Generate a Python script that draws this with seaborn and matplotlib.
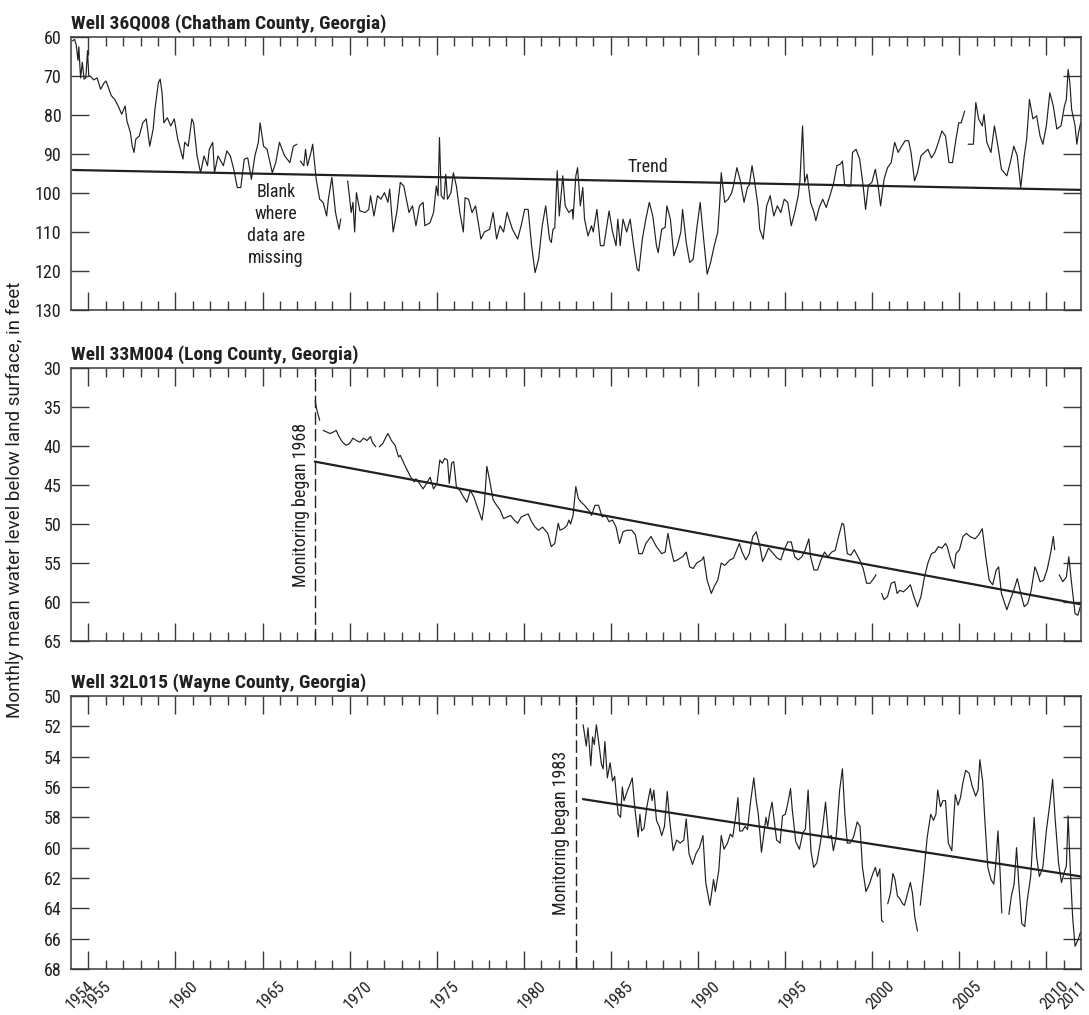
import numpy as np
import pandas as pd
import matplotlib
matplotlib.use("Agg")
import matplotlib.pyplot as plt
import seaborn as sns
from matplotlib import font_manager

nan = float("nan")

# ---------------- data ----------------
w1_year = [1954.09, 1954.20, 1954.30, 1954.40, 1954.45, 1954.55, 1954.65, 1954.75, 1954.85, 1954.95,
           1955.02, 1955.10, 1955.30, 1955.50, 1955.70, 1955.91, 1956.01, 1956.11, 1956.31, 1956.51,
           1956.71, 1956.91, 1957.11, 1957.21, 1957.41, 1957.52, 1957.62, 1957.72, 1957.92, 1958.12,
           1958.32, 1958.42, 1958.52, 1958.72, 1958.82, 1959.02, 1959.12, 1959.23, 1959.33, 1959.53,
           1959.73, 1959.93, 1960.13, 1960.33, 1960.43, 1960.53, 1960.73, 1960.94, 1961.04, 1961.24,
           1961.44, 1961.64, 1961.84, 1961.94, 1962.14, 1962.24, 1962.44, 1962.75, 1962.95, 1963.15,
           1963.35, 1963.55, 1963.75, 1963.95, 1964.15, 1964.36, 1964.56, 1964.76, 1964.86, 1965.06,
           1965.26, 1965.56, 1965.76, 1965.97, 1966.27, 1966.57, 1966.77, 1966.97, 1967.07,
           1967.17, 1967.37, 1967.47, 1967.58, 1967.78, 1967.88, 1968.08, 1968.28, 1968.48, 1968.68,
           1968.78, 1968.98, 1969.19, 1969.39, 1969.49, 1969.70,
           1969.89, 1970.09, 1970.19, 1970.29, 1970.39, 1970.59, 1970.90, 1971.10, 1971.20, 1971.40,
           1971.60, 1971.80, 1972.00, 1972.20, 1972.30, 1972.50, 1972.71, 1972.91, 1973.11, 1973.41,
           1973.61, 1973.81, 1974.01, 1974.22, 1974.32, 1974.62, 1974.82, 1974.98, 1975.08, 1975.16,
           1975.26, 1975.42, 1975.52, 1975.62, 1975.82, 1975.96, 1976.13, 1976.33, 1976.53, 1976.63,
           1976.83, 1977.03, 1977.23, 1977.54, 1977.74, 1978.04, 1978.24, 1978.44, 1978.64, 1978.84,
           1979.04, 1979.35, 1979.65, 1979.85, 1980.05, 1980.25, 1980.45, 1980.65, 1980.85, 1981.06,
           1981.26, 1981.48, 1981.58, 1981.68, 1981.78, 1981.92, 1982.04, 1982.24, 1982.38, 1982.59,
           1982.79, 1982.83, 1982.99, 1983.09, 1983.25, 1983.39, 1983.49, 1983.69, 1983.89, 1983.99,
           1984.20, 1984.40, 1984.60, 1984.90, 1985.10, 1985.30, 1985.40, 1985.54, 1985.70, 1985.91,
           1986.11, 1986.31, 1986.51, 1986.61, 1986.81, 1987.01, 1987.21, 1987.41, 1987.62, 1987.72,
           1987.92, 1988.12, 1988.22, 1988.42, 1988.62, 1988.82, 1989.02, 1989.12, 1989.33, 1989.53,
           1989.73, 1989.93, 1990.13, 1990.33, 1990.53, 1990.73, 1990.94, 1991.14, 1991.24, 1991.34,
           1991.54, 1991.74, 1991.94, 1992.04, 1992.24, 1992.44, 1992.65, 1992.85, 1992.95, 1993.11,
           1993.25, 1993.45, 1993.55, 1993.75, 1993.95, 1994.15, 1994.36, 1994.56, 1994.76, 1994.96,
           1995.16, 1995.36, 1995.56, 1995.76, 1995.86, 1996.01, 1996.13, 1996.27, 1996.47, 1996.67,
           1996.77, 1996.97, 1997.17, 1997.37, 1997.58, 1997.78, 1997.98, 1998.18, 1998.30, 1998.42,
           1998.58, 1998.78, 1998.88, 1999.08, 1999.29, 1999.49, 1999.63, 1999.79, 1999.99, 2000.19,
           2000.35, 2000.49, 2000.69, 2000.89, 2001.10, 2001.30, 2001.50, 2001.70, 2001.90, 2002.10,
           2002.24, 2002.44, 2002.61, 2002.81, 2003.01, 2003.21, 2003.41, 2003.61, 2003.81, 2004.01,
           2004.22, 2004.42, 2004.62, 2004.82, 2004.98, 2005.12, 2005.32, 2005.42,
           2005.52, 2005.82, 2005.96, 2006.12, 2006.33, 2006.43, 2006.59, 2006.83, 2007.03, 2007.23,
           2007.43, 2007.74, 2007.94, 2008.14, 2008.34, 2008.54, 2008.74, 2008.88, 2009.04, 2009.24,
           2009.45, 2009.65, 2009.81, 2010.01, 2010.21, 2010.41, 2010.61, 2010.85, 2011.05, 2011.16,
           2011.26, 2011.36, 2011.46, 2011.66, 2011.76, 2011.86, 2011.98]
w1_level = [61.0, 60.6, 62.0, 66.0, 62.5, 70.5, 66.5, 70.8, 70.5, 63.5,
            70.0, 70.0, 71.0, 70.5, 73.4, 71.7, 71.3, 72.5, 75.0, 76.0,
            77.7, 79.8, 77.7, 81.5, 84.5, 88.0, 89.6, 86.2, 85.4, 82.0,
            81.0, 84.5, 88.0, 83.6, 78.5, 71.7, 70.8, 74.3, 82.0, 80.7,
            82.8, 81.0, 86.2, 89.6, 91.3, 87.0, 88.0, 81.0, 82.0, 90.5,
            94.8, 90.5, 93.0, 88.8, 87.0, 94.8, 90.5, 93.0, 89.2, 90.5,
            94.0, 98.6, 98.6, 91.3, 91.0, 96.5, 90.5, 87.0, 82.0, 88.0,
            88.8, 94.8, 92.2, 87.0, 90.5, 92.2, 88.0, 87.5, nan,
            91.8, 93.0, 88.8, 93.0, 89.6, 87.5, 96.5, 101.6, 102.4, 105.9,
            101.6, 96.0, 105.0, 109.3, 106.7, nan,
            96.9, 105.0, 102.4, 110.0, 99.9, 104.6, 105.0, 104.2, 100.7, 105.9,
            100.7, 101.6, 99.9, 102.4, 99.0, 110.0, 105.0, 97.3, 98.2, 105.0,
            103.3, 108.4, 103.3, 102.4, 108.4, 107.6, 105.0, 98.2, 100.7, 85.8,
            100.7, 101.6, 95.2, 101.6, 99.9, 94.8, 98.2, 105.0, 110.0, 101.2,
            101.6, 105.0, 103.3, 111.8, 110.0, 109.3, 105.0, 111.8, 108.4, 110.0,
            105.0, 109.3, 111.8, 108.4, 104.2, 104.2, 113.5, 120.4, 117.0, 108.4,
            103.3, 111.8, 112.7, 109.3, 109.0, 94.3, 105.9, 95.6, 103.3, 105.0,
            104.2, 106.7, 95.6, 93.5, 103.3, 98.6, 106.7, 111.0, 108.4, 110.0,
            104.2, 113.5, 113.5, 104.6, 110.0, 113.5, 106.7, 113.5, 106.7, 110.0,
            106.7, 113.5, 119.5, 120.0, 111.8, 106.7, 102.4, 105.9, 113.5, 115.3,
            109.3, 108.8, 103.3, 106.7, 116.1, 113.5, 110.0, 104.2, 112.7, 117.8,
            117.0, 109.3, 102.4, 111.8, 120.8, 117.8, 113.5, 110.0, 103.3, 94.8,
            102.4, 101.6, 99.9, 98.2, 93.5, 96.9, 102.4, 98.5, 98.0, 93.0,
            96.9, 103.3, 109.3, 111.8, 103.3, 100.7, 105.9, 103.3, 105.0, 101.6,
            102.4, 108.4, 105.0, 100.7, 96.9, 82.8, 97.3, 95.2, 102.4, 105.0,
            107.1, 103.7, 101.6, 103.7, 100.7, 97.7, 93.0, 92.6, 91.8, 97.7,
            98.2, 98.2, 89.6, 88.8, 91.3, 98.2, 104.2, 98.0, 97.3, 93.9,
            98.2, 103.3, 96.5, 93.5, 92.2, 87.0, 89.6, 88.0, 86.6, 86.6,
            89.6, 96.9, 94.8, 90.5, 89.6, 88.8, 91.0, 89.6, 87.0, 84.1,
            85.4, 92.2, 92.2, 86.2, 82.0, 82.0, 79.0, nan,
            87.5, 87.5, 76.8, 81.0, 82.8, 79.8, 87.0, 89.6, 82.8, 88.0,
            93.9, 95.6, 92.2, 88.0, 90.5, 98.6, 90.5, 86.2, 76.0, 81.0,
            80.2, 85.4, 87.5, 82.8, 74.3, 77.7, 83.6, 82.8, 77.7, 76.0,
            68.3, 71.7, 78.5, 82.8, 87.5, 84.5, 82.0]

w2_year = [1968.02, 1968.10, 1968.28, 1968.38,
           1968.48, 1968.68, 1968.88, 1969.08, 1969.23, 1969.39, 1969.59, 1969.79, 1969.99, 1970.19,
           1970.39, 1970.59, 1970.80, 1971.00, 1971.20, 1971.30, 1971.50, 1971.60,
           1971.70, 1971.90, 1972.10, 1972.20, 1972.40, 1972.61, 1972.81, 1972.91, 1973.11, 1973.31,
           1973.51, 1973.71, 1973.81, 1974.01, 1974.22, 1974.42, 1974.62, 1974.82, 1975.02, 1975.18,
           1975.32, 1975.46, 1975.62, 1975.72, 1975.86, 1975.98, 1976.13, 1976.33, 1976.53, 1976.73,
           1976.93, 1977.13, 1977.33, 1977.60, 1977.74, 1977.88, 1978.04, 1978.24, 1978.44, 1978.64,
           1978.84, 1979.04, 1979.25, 1979.45, 1979.65, 1979.85, 1980.05, 1980.25, 1980.45, 1980.65,
           1980.85, 1981.08, 1981.38, 1981.58, 1981.78, 1981.98, 1982.08, 1982.28, 1982.48, 1982.59,
           1982.69, 1982.83, 1982.99, 1983.13, 1983.29, 1983.49, 1983.79, 1983.89, 1984.09, 1984.30,
           1984.50, 1984.70, 1984.90, 1985.10, 1985.30, 1985.50, 1985.70, 1985.91, 1986.21, 1986.41,
           1986.61, 1986.81, 1987.01, 1987.31, 1987.62, 1987.92, 1988.12, 1988.28, 1988.42, 1988.62,
           1988.82, 1989.12, 1989.33, 1989.53, 1989.73, 1989.93, 1990.23, 1990.33, 1990.53, 1990.77,
           1990.94, 1991.14, 1991.34, 1991.54, 1991.84, 1992.04, 1992.24, 1992.38, 1992.54, 1992.75,
           1992.95, 1993.15, 1993.35, 1993.55, 1993.71, 1993.85, 1994.05, 1994.26, 1994.56, 1994.76,
           1994.96, 1995.16, 1995.36, 1995.56, 1995.76, 1995.97, 1996.17, 1996.37, 1996.47, 1996.67,
           1996.87, 1997.07, 1997.27, 1997.47, 1997.68, 1997.88, 1998.08, 1998.28, 1998.38, 1998.58,
           1998.78, 1998.98, 1999.29, 1999.49, 1999.69, 1999.89, 2000.09, 2000.23, 2000.40,
           2000.55, 2000.69, 2000.89, 2001.10, 2001.30, 2001.44, 2001.60, 2001.80, 2002.00, 2002.20,
           2002.40, 2002.61, 2002.81, 2003.01, 2003.21, 2003.41, 2003.61, 2003.81, 2004.01, 2004.22,
           2004.32, 2004.52, 2004.72, 2004.82, 2005.02, 2005.22, 2005.42, 2005.62, 2005.92, 2006.12,
           2006.33, 2006.53, 2006.73, 2006.93, 2007.13, 2007.27, 2007.43, 2007.74, 2007.94, 2008.14,
           2008.34, 2008.54, 2008.74, 2008.94, 2009.14, 2009.35, 2009.45, 2009.65, 2009.85, 2010.05,
           2010.25, 2010.41, 2010.49, 2010.60,
           2010.75, 2010.95, 2011.16, 2011.30, 2011.46, 2011.66, 2011.82, 2011.96]
w2_level = [34.2, 35.2, 36.7, nan,
            38.0, 38.2, 38.4, 38.2, 38.0, 38.8, 39.5, 39.9, 39.7, 39.0,
            39.3, 39.5, 39.0, 39.3, 38.8, 39.5, 40.1, nan,
            40.1, 39.7, 38.8, 38.4, 39.3, 39.9, 41.4, 41.2, 42.2, 43.1,
            44.0, 44.6, 44.2, 44.8, 45.5, 44.8, 44.0, 45.5, 44.8, 41.8,
            42.2, 41.6, 41.8, 44.8, 42.2, 42.0, 45.2, 45.7, 46.5, 47.2,
            45.7, 46.5, 47.8, 49.5, 47.4, 42.6, 44.4, 46.9, 47.6, 48.2,
            49.3, 49.1, 48.9, 49.5, 49.9, 49.1, 48.9, 48.7, 49.7, 50.4,
            50.8, 50.4, 51.2, 52.9, 52.5, 49.9, 50.8, 50.6, 50.2, 49.5,
            50.0, 48.9, 45.2, 46.7, 47.2, 47.6, 48.4, 48.9, 47.6, 47.6,
            49.1, 48.9, 49.7, 49.5, 50.4, 52.5, 51.0, 50.8, 50.8, 51.4,
            53.8, 53.8, 52.5, 51.6, 52.9, 53.8, 53.6, 51.2, 52.9, 54.8,
            54.6, 54.2, 53.6, 55.5, 55.7, 55.0, 54.6, 54.2, 57.2, 58.9,
            58.0, 57.2, 55.0, 55.3, 54.6, 54.4, 53.3, 52.5, 53.6, 54.6,
            53.8, 51.6, 51.0, 52.7, 54.8, 54.2, 53.1, 53.6, 54.4, 54.6,
            53.3, 52.3, 52.3, 54.2, 54.6, 54.2, 53.3, 51.9, 54.2, 55.9,
            55.9, 54.6, 53.6, 54.2, 53.6, 53.4, 51.6, 49.9, 50.1, 53.8,
            54.0, 53.3, 54.6, 55.7, 57.6, 57.6, 57.0, 56.5, nan,
            58.9, 59.7, 59.3, 57.6, 57.4, 58.9, 58.5, 58.7, 58.3, 57.8,
            59.3, 60.6, 59.3, 56.8, 55.0, 53.8, 53.6, 52.9, 53.1, 52.5,
            52.9, 54.6, 55.7, 53.8, 53.3, 51.6, 51.2, 51.6, 51.9, 51.4,
            50.6, 54.2, 57.2, 57.8, 55.9, 55.5, 58.9, 61.0, 59.7, 58.5,
            57.0, 58.9, 60.6, 60.2, 58.5, 55.5, 56.0, 57.4, 57.2, 55.9,
            53.8, 51.6, 53.3, nan,
            56.5, 57.4, 56.8, 54.2, 57.6, 61.5, 61.7, 60.6]

w3_year = [1983.41, 1983.59, 1983.69, 1983.85, 1983.95, 1984.05, 1984.17, 1984.30, 1984.46, 1984.56,
           1984.66, 1984.80, 1984.96, 1985.10, 1985.22, 1985.42, 1985.56, 1985.66, 1985.76, 1985.97,
           1986.11, 1986.23, 1986.37, 1986.57, 1986.67, 1986.77, 1986.91, 1987.07, 1987.27, 1987.37,
           1987.47, 1987.62, 1987.78, 1987.92, 1988.08, 1988.24, 1988.38, 1988.58, 1988.78, 1988.98,
           1989.19, 1989.33, 1989.49, 1989.69, 1989.89, 1990.09, 1990.29, 1990.45, 1990.69, 1990.90,
           1991.00, 1991.20, 1991.34, 1991.50, 1991.70, 1991.86, 1992.00, 1992.14, 1992.30, 1992.40,
           1992.55, 1992.71, 1992.85, 1993.01, 1993.21, 1993.35, 1993.47, 1993.65, 1993.81, 1993.91,
           1994.01, 1994.11, 1994.26, 1994.36, 1994.52, 1994.72, 1994.86, 1995.02, 1995.16, 1995.32,
           1995.42, 1995.62, 1995.83, 1996.03, 1996.17, 1996.33, 1996.49, 1996.65, 1996.83, 1997.03,
           1997.17, 1997.33, 1997.50, 1997.66, 1997.78, 1997.94, 1998.14, 1998.30, 1998.44, 1998.58,
           1998.74, 1998.94, 1999.15, 1999.31, 1999.45, 1999.65, 1999.85, 2000.05, 2000.19, 2000.31,
           2000.45, 2000.55, 2000.65, 2000.78,
           2000.90, 2001.06, 2001.20, 2001.32, 2001.46, 2001.56, 2001.76, 2001.86, 2002.00, 2002.20,
           2002.32, 2002.46, 2002.61, 2002.69,
           2002.77, 2002.97, 2003.17, 2003.37, 2003.53, 2003.67, 2003.77, 2003.93, 2004.07, 2004.22,
           2004.38, 2004.58, 2004.78, 2004.94, 2005.08, 2005.22, 2005.38, 2005.58, 2005.74, 2005.95,
           2006.09, 2006.19, 2006.35, 2006.49, 2006.65, 2006.83, 2006.99, 2007.09, 2007.23, 2007.35,
           2007.45, 2007.65,
           2007.86, 2008.00, 2008.16, 2008.30, 2008.44, 2008.60, 2008.77, 2008.91, 2009.11, 2009.31,
           2009.45, 2009.61, 2009.81, 2010.01, 2010.21, 2010.37, 2010.51, 2010.71, 2010.88, 2011.02,
           2011.16, 2011.26, 2011.38, 2011.52, 2011.66, 2011.86, 2011.96]
w3_level = [51.9, 53.3, 52.1, 54.6, 52.7, 53.2, 51.9, 53.0, 54.5, 54.8,
            53.0, 55.4, 54.4, 55.6, 55.3, 57.8, 58.0, 56.0, 56.9, 56.2,
            55.8, 55.4, 57.3, 59.3, 57.8, 58.9, 58.7, 57.3, 56.1, 56.9,
            56.2, 58.2, 58.6, 59.2, 58.6, 56.3, 58.2, 60.2, 59.5, 59.7,
            59.5, 58.1, 60.4, 61.1, 60.4, 60.0, 59.2, 62.3, 63.8, 62.1,
            62.9, 61.5, 59.2, 60.1, 59.7, 59.1, 59.3, 58.2, 56.7, 58.9,
            58.9, 58.6, 58.8, 57.1, 55.4, 56.9, 57.8, 60.3, 58.9, 58.0,
            58.6, 57.8, 57.0, 58.0, 59.5, 59.7, 57.9, 57.8, 57.1, 56.1,
            57.5, 59.6, 60.1, 59.0, 58.8, 56.2, 60.2, 61.3, 61.0, 59.7,
            58.6, 57.0, 59.3, 59.2, 60.2, 59.3, 56.2, 54.8, 57.8, 59.7,
            59.7, 59.3, 58.3, 58.6, 61.3, 62.9, 62.4, 61.7, 61.3, 61.9,
            61.4, 64.8, 64.9, nan,
            63.7, 63.0, 61.7, 62.1, 63.2, 63.3, 63.7, 63.8, 63.2, 62.3,
            63.0, 64.6, 65.5, nan,
            63.8, 61.7, 59.3, 57.8, 58.2, 57.8, 56.2, 57.3, 56.9, 56.9,
            59.7, 60.2, 56.5, 57.2, 56.7, 55.7, 54.9, 55.1, 55.9, 56.6,
            56.2, 54.2, 55.6, 58.4, 61.3, 62.1, 62.4, 61.3, 58.9, 61.5,
            64.3, nan,
            64.4, 63.2, 62.4, 60.0, 62.6, 65.0, 65.2, 63.5, 61.9, 58.0,
            60.6, 61.9, 61.3, 58.9, 57.1, 55.5, 58.0, 61.0, 62.3, 61.7,
            61.2, 57.9, 61.3, 64.6, 66.5, 66.0, 65.6]

trend1_year = [1954.1, 2012.0]
trend1_level = [94.1, 99.2]
trend2_year = [1968.0, 2012.0]
trend2_level = [42.0, 60.3]
trend3_year = [1983.4, 2012.0]
trend3_level = [56.8, 61.9]

titles = ["Well 36Q008 (Chatham County, Georgia)",
          "Well 33M004 (Long County, Georgia)",
          "Well 32L015 (Wayne County, Georgia)"]
y_ticks = [list(range(60, 131, 10)), list(range(30, 66, 5)), list(range(50, 69, 2))]
y_limits = [(130, 60), (65, 30), (68, 50)]
label_years = [1954, 1955, 1960, 1965, 1970, 1975, 1980, 1985, 1990, 1995, 2000, 2005, 2010, 2011]
ylabel = "Monthly mean water level below land surface, in feet"

# ---------------- style ----------------
sns.set_theme(style="ticks")
names = {f.name for f in font_manager.fontManager.ttflist}
narrow = None
for cand in ["Liberation Sans Narrow", "Roboto Condensed", "Open Sans Condensed", "Arial Narrow"]:
    if cand in names:
        narrow = cand
        break
if narrow:
    plt.rcParams["font.family"] = [narrow, "DejaVu Sans"]
else:
    plt.rcParams["font.family"] = ["DejaVu Sans"]
    plt.rcParams["font.stretch"] = "condensed"
regular = "Roboto" if "Roboto" in names else "DejaVu Sans"

ink = "#231f20"
axis_c = "#3a3a3a"

fig = plt.figure(figsize=(10.89, 10.15), dpi=100)
L = 71 / 1089
W = 1010 / 1089
H = 273 / 1015
bottoms = [1 - 310 / 1015, 1 - 641 / 1015, 1 - 969 / 1015]

series = [(w1_year, w1_level, trend1_year, trend1_level),
          (w2_year, w2_level, trend2_year, trend2_level),
          (w3_year, w3_level, trend3_year, trend3_level)]

axes = []
for i, (yrs, lv, ty, tl) in enumerate(series):
    ax = fig.add_axes([L, bottoms[i], W, H])
    df = pd.DataFrame({"year": yrs, "level": lv})
    df["seg"] = df["level"].isna().cumsum()
    df = df.dropna()
    sns.lineplot(data=df, x="year", y="level", units="seg", estimator=None,
                 sort=False, color=ink, lw=0.85, ax=ax)
    tdf = pd.DataFrame({"year": ty, "level": tl})
    sns.lineplot(data=tdf, x="year", y="level", color=ink, lw=1.6, ax=ax)
    ax.set_xlim(1954, 2012)
    ax.set_ylim(*y_limits[i])
    ax.set_yticks(y_ticks[i])
    ax.set_xticks(list(range(1955, 2011, 5)))
    ax.set_xticks(list(range(1955, 2012)), minor=True)
    ax.tick_params(axis="x", which="major", direction="in", length=13, width=1.0,
                   top=True, bottom=True, labelbottom=False, color=axis_c)
    ax.tick_params(axis="x", which="minor", direction="in", length=6.5, width=1.0,
                   top=True, bottom=True, color=axis_c)
    ax.tick_params(axis="y", which="major", direction="in", length=13, width=1.0,
                   left=True, right=True, labelsize=13, pad=7, color=axis_c,
                   labelcolor=ink)
    for s in ax.spines.values():
        s.set_visible(True)
        s.set_color(axis_c)
        s.set_linewidth(1.1)
    ax.set_xlabel("")
    ax.set_ylabel("")
    ax.set_title(titles[i], loc="left", fontweight="bold", fontsize=14, pad=6, color=ink)
    axes.append(ax)

ax1, ax2, ax3 = axes

# annotations
ax1.text(1987.1, 93.3, "Trend", ha="center", va="center", fontsize=13, color=ink)
ax1.text(1965.76, 108.2, "Blank\nwhere\ndata are\nmissing", ha="center", va="center",
         fontsize=13, linespacing=1.3, color=ink)
ax2.axvline(1968.0, color=ink, lw=1.0, ls=(0, (9, 3)))
ax2.text(1967.2, 47.5, "Monitoring began 1968", rotation=90, ha="center", va="center",
         fontsize=13, color=ink)
ax3.axvline(1983.0, color=ink, lw=1.0, ls=(0, (9, 3)))
ax3.text(1982.15, 59.0, "Monitoring began 1983", rotation=90, ha="center", va="center",
         fontsize=13, color=ink)

# year labels on the bottom panel
sec = ax3.secondary_xaxis("bottom")
sec.set_xticks([y + 0.5 for y in label_years], labels=[str(y) for y in label_years])
sec.tick_params(axis="x", length=0, pad=7, labelsize=12, labelrotation=45, labelcolor=ink)
for lbl in sec.get_xticklabels():
    lbl.set_ha("center")
sec.spines["bottom"].set_visible(False)

fig.text(0.014, 1 - 500 / 1015, ylabel, rotation=90, ha="center", va="center",
         fontsize=13.5, color=ink, family=regular)

fig.savefig("out.png", dpi=100)
